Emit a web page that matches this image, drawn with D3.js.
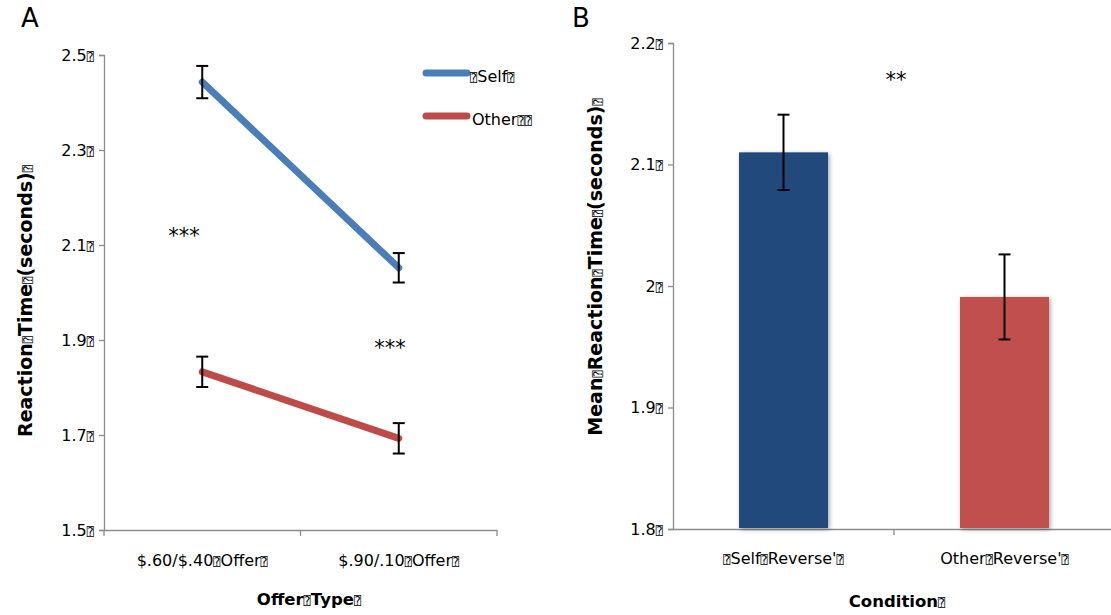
<!DOCTYPE html>
<html>
<head>
<meta charset="utf-8">
<script src="https://cdn.jsdelivr.net/npm/d3@7"></script>
<style>
  html, body { margin: 0; padding: 0; background: #fff; }
  svg { display: block; }
  text { font-family: "DejaVu Sans", Verdana, sans-serif; fill: #000; }
  .box { font-family: "DejaVu Sans Mono", "DejaVu Sans", sans-serif; font-size: 12px; font-weight: normal; }
</style>
</head>
<body>
<svg id="chart" width="1111" height="615"></svg>
<script>
// Placeholder glyph shown in place of missing characters
const BOX = "\u2370";

// Panel A: reaction time by offer type
const offerTypes = ["$.60/$.40", "$.90/.10"];
const selfMeans = [2.443, 2.052];
const selfErr = [0.034, 0.031];
const otherMeans = [1.833, 1.693];
const otherErr = [0.032, 0.032];
const ticksA = [1.5, 1.7, 1.9, 2.1, 2.3, 2.5];

// Panel B: mean reaction time by condition
const conditions = ["Self", "Other"];
const condMeans = [2.110, 1.991];
const condErr = [0.031, 0.035];
const ticksB = [1.8, 1.9, 2.0, 2.1, 2.2];

const svg = d3.select("#chart");
const axisColor = "#8c8c8c";
const tickFont = 16;

// drop shadow for bars
const defs = svg.append("defs");
const f = defs.append("filter").attr("id", "shadow").attr("x", "-10%").attr("y", "-10%").attr("width", "130%").attr("height", "130%");
f.append("feDropShadow").attr("dx", 1.5).attr("dy", 1.5).attr("stdDeviation", 2).attr("flood-color", "#000").attr("flood-opacity", 0.35);

// helper: write text pieces with box glyphs
function addPieces(sel, pieces) {
  pieces.forEach(p => {
    if (p === BOX) sel.append("tspan").attr("class", "box").text(BOX);
    else sel.append("tspan").text(p);
  });
}

function styleAxis(g) {
  g.selectAll("path, line").attr("stroke", axisColor).attr("stroke-width", 1.3);
}

function errorBar(x, top, bottom) {
  const g = svg.append("g").attr("stroke", "#000").attr("stroke-width", 2);
  g.append("line").attr("x1", x).attr("x2", x).attr("y1", top).attr("y2", bottom);
  g.append("line").attr("x1", x - 6).attr("x2", x + 6).attr("y1", top).attr("y2", top);
  g.append("line").attr("x1", x - 6).attr("x2", x + 6).attr("y1", bottom).attr("y2", bottom);
}

// ---------- Panel A ----------
const yA = d3.scaleLinear().domain([1.5, 2.5]).range([530, 55]);
const xA = d3.scaleBand().domain(offerTypes).range([104, 497]);

const gyA = svg.append("g").attr("transform", "translate(104,0)")
  .call(d3.axisLeft(yA).tickValues(ticksA).tickSize(5).tickSizeOuter(5));
styleAxis(gyA);
gyA.selectAll(".tick text").attr("font-size", tickFont).attr("x", -10).text(null)
  .each(function(d) { addPieces(d3.select(this), [d3.format(".1f")(d), BOX]); });

const gxA = svg.append("g").attr("transform", "translate(0,530)")
  .call(d3.axisBottom(xA).tickSize(0).tickSizeOuter(0));
styleAxis(gxA);
gxA.selectAll(".tick text").attr("font-size", tickFont).attr("y", 36).attr("dy", 0).text(null)
  .each(function(d) { addPieces(d3.select(this), [d, BOX, "Offer", BOX]); });
// category boundary ticks pointing down
const boundsA = [xA.range()[0], ...offerTypes.map(c => xA(c) + xA.bandwidth())];
gxA.selectAll(".btick").data(boundsA).join("line").attr("class", "btick")
  .attr("x1", d => d).attr("x2", d => d).attr("y1", 0).attr("y2", 6)
  .attr("stroke", axisColor).attr("stroke-width", 1.3);

const cx = c => xA(c) + xA.bandwidth() / 2;
const lineA = d3.line().x((d, i) => cx(offerTypes[i])).y(d => yA(d));

const seriesA = [
  { name: "Self", means: selfMeans, err: selfErr, color: "#4a7ebb" },
  { name: "Other", means: otherMeans, err: otherErr, color: "#be4b48" }
];
seriesA.forEach(s => {
  svg.append("path").attr("d", lineA(s.means)).attr("fill", "none")
    .attr("stroke", s.color).attr("stroke-width", 7).attr("stroke-linecap", "round");
});
seriesA.forEach(s => {
  s.means.forEach((m, i) => errorBar(cx(offerTypes[i]), yA(m + s.err[i]), yA(m - s.err[i])));
});

// legend
seriesA.forEach((s, i) => {
  const y = 73 + i * 43;
  svg.append("line").attr("x1", 426).attr("x2", 467).attr("y1", y).attr("y2", y)
    .attr("stroke", s.color).attr("stroke-width", 7).attr("stroke-linecap", "round");
  const t = svg.append("text").attr("x", i === 0 ? 470 : 472).attr("y", y + 8.5).attr("font-size", tickFont);
  if (i === 0) addPieces(t, [BOX, s.name, BOX]);
  else addPieces(t, [s.name, BOX, BOX]);
});

// significance marks
svg.append("text").attr("x", 184).attr("y", 243).attr("text-anchor", "middle").attr("font-size", 21).text("***");
svg.append("text").attr("x", 390).attr("y", 355).attr("text-anchor", "middle").attr("font-size", 21).text("***");

// axis titles and panel letter
const tA = svg.append("text").attr("transform", "translate(32,301) rotate(-90)")
  .attr("text-anchor", "middle").attr("font-size", 19).attr("font-weight", "bold");
addPieces(tA, ["Reaction", BOX, "Time", BOX, "(seconds)", BOX]);
const xtA = svg.append("text").attr("x", 309).attr("y", 605)
  .attr("text-anchor", "middle").attr("font-size", 16.5).attr("font-weight", "bold");
addPieces(xtA, ["Offer", BOX, "Type", BOX]);
svg.append("text").attr("x", 21).attr("y", 27).attr("font-size", 26).text("A");

// ---------- Panel B ----------
const yB = d3.scaleLinear().domain([1.8, 2.2]).range([529, 43]);
const xB = d3.scaleBand().domain(conditions).range([673, 1115]);
const barW = 89;

const gyB = svg.append("g").attr("transform", "translate(673,0)")
  .call(d3.axisLeft(yB).tickValues(ticksB).tickSize(5).tickSizeOuter(5));
styleAxis(gyB);
gyB.selectAll(".tick text").attr("font-size", tickFont).attr("x", -10).text(null)
  .each(function(d) { addPieces(d3.select(this), [d3.format("~g")(d), BOX]); });

const gxB = svg.append("g").attr("transform", "translate(0,529)")
  .call(d3.axisBottom(xB).tickSize(0).tickSizeOuter(0));
styleAxis(gxB);
gxB.selectAll(".tick text").attr("font-size", tickFont).attr("y", 35).attr("dy", 0).text(null)
  .each(function(d, i) {
    const t = d3.select(this);
    if (i === 0) addPieces(t, [BOX, d, BOX, "Reverse'", BOX]);
    else addPieces(t, [d, BOX, "Reverse'", BOX]);
  });
gxB.selectAll(".btick").data([xB(conditions[1])]).join("line").attr("class", "btick")
  .attr("x1", d => d).attr("x2", d => d).attr("y1", 0).attr("y2", 6)
  .attr("stroke", axisColor).attr("stroke-width", 1.3);

const barColors = ["#214a7c", "#c0504d"];
const cxB = c => xB(c) + xB.bandwidth() / 2;
svg.append("g").selectAll("rect").data(condMeans).join("rect")
  .attr("x", (d, i) => cxB(conditions[i]) - barW / 2)
  .attr("width", barW)
  .attr("y", d => yB(d))
  .attr("height", d => yB(1.8) - yB(d) - 1)
  .attr("fill", (d, i) => barColors[i])
  .attr("filter", "url(#shadow)");
condMeans.forEach((m, i) => errorBar(cxB(conditions[i]), yB(m + condErr[i]), yB(m - condErr[i])));

svg.append("text").attr("x", 896).attr("y", 87).attr("text-anchor", "middle").attr("font-size", 21).text("**");

const tB = svg.append("text").attr("transform", "translate(602,267) rotate(-90)")
  .attr("text-anchor", "middle").attr("font-size", 19).attr("font-weight", "bold");
addPieces(tB, ["Mean", BOX, "Reaction", BOX, "Time", BOX, "(seconds)", BOX]);
const xtB = svg.append("text").attr("x", 897).attr("y", 607)
  .attr("text-anchor", "middle").attr("font-size", 16.5).attr("font-weight", "bold");
addPieces(xtB, ["Condition", BOX]);
svg.append("text").attr("x", 572).attr("y", 27).attr("font-size", 26).text("B");
</script>
</body>
</html>
